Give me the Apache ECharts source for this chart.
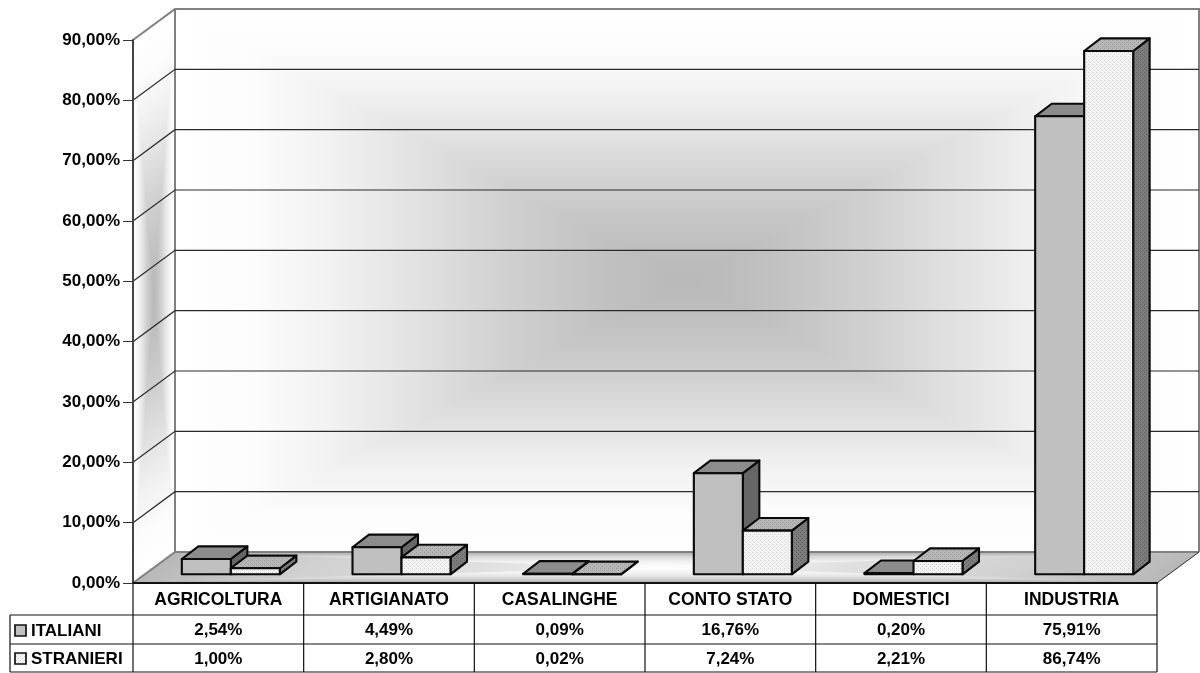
<!DOCTYPE html>
<html>
<head>
<meta charset="utf-8">
<style>html,body{margin:0;padding:0;background:#fff}#chart{width:1200px;height:673px}</style>
<script src="https://cdn.jsdelivr.net/npm/echarts@6/dist/echarts.min.js"></script>
</head>
<body>
<div id="chart"></div>
<script>
// Occupational sectors, share of workers by origin (percent)
const categories = ['AGRICOLTURA', 'ARTIGIANATO', 'CASALINGHE', 'CONTO STATO', 'DOMESTICI', 'INDUSTRIA'];
const italiani = [2.54, 4.49, 0.09, 16.76, 0.20, 75.91];
const stranieri = [1.00, 2.80, 0.02, 7.24, 2.21, 86.74];
const seriesNames = ['ITALIANI', 'STRANIERI'];
const tickValues = [0, 10, 20, 30, 40, 50, 60, 70, 80, 90];

const FAMILY = '"Liberation Sans", Arial, sans-serif';
const FONT = 'bold 17px ' + FAMILY;
const pct = v => v.toFixed(2).replace('.', ',') + '%';

// Depth of the 3D box: back wall offset from the front plane
const WALL_DX = 42, WALL_DY = -31;
// Bars stand part-way into the floor and have their own depth
const BAR_OFF_X = 12.5, BAR_OFF_Y = -8.7, BAR_DX = 16.5, BAR_DY = -12.6, BAR_RATIO = 0.2871;

// Dotted fill tiles for the second series
function dotted(base, dot) {
  const c = document.createElement('canvas');
  c.width = c.height = 4;
  const g = c.getContext('2d');
  g.fillStyle = base; g.fillRect(0, 0, 4, 4);
  g.fillStyle = dot;
  g.fillRect(0, 0, 1, 1); g.fillRect(2, 2, 1, 1);
  return { image: c, repeat: 'repeat' };
}
const plain = { front: '#c0c0c0', top: '#8c8c8c', side: '#666666' };
const dots = {
  front: dotted('#f2f2f2', '#cfcfcf'),
  top: dotted('#b6b6b6', '#989898'),
  side: dotted('#7c7c7c', '#5c5c5c')
};

function linear(p0, p1, stops) {
  return {
    type: 'linear', global: true, x: p0[0], y: p0[1], x2: p1[0], y2: p1[1],
    colorStops: stops.map(s => ({ offset: s[0], color: s[1] }))
  };
}
// Foot of the perpendicular from point c onto the line a-b
function foot(c, a, b) {
  const dx = b[0] - a[0], dy = b[1] - a[1];
  const k = ((c[0] - a[0]) * dx + (c[1] - a[1]) * dy) / (dx * dx + dy * dy);
  return [a[0] + k * dx, a[1] + k * dy];
}
// Rectangular path gradient: four mitred triangles meeting at the centre.
// Stops alternate between the odd and even edges of the quad.
function pathGradient(corners, stopsA, stopsB) {
  const c = [0, 0];
  corners.forEach(p => { c[0] += p[0] / 4; c[1] += p[1] / 4; });
  return corners.map((a, i) => {
    const b = corners[(i + 1) % 4];
    const fill = linear(foot(c, a, b), c, i % 2 ? (stopsB || stopsA) : stopsA);
    return { type: 'polygon', shape: { points: [a, b, c] }, style: { fill, stroke: fill, lineWidth: 1 }, silent: true };
  });
}
const wallStops = [[0, '#ffffff'], [0.15, '#fcfcfc'], [0.3, '#f2f2f2'], [0.45, '#e4e4e4'], [0.65, '#d0d0d0'], [0.85, '#c0c0c0'], [1, '#b8b8b8']];
const floorEndStops = [[0, '#b8b8b8'], [0.3, '#d0d0d0'], [0.65, '#e0e0e0'], [0.85, '#f0f0f0'], [1, '#ffffff']];
const floorLongStops = [[0, '#a8a8a8'], [0.3, '#d8d8d8'], [0.6, '#f0f0f0'], [1, '#ffffff']];

function renderBox(params, api) {
  const r = params.coordSys, x0 = r.x, x1 = r.x + r.width, yT = r.y, yB = r.y + r.height;
  const back = [[x0 + WALL_DX, yT + WALL_DY], [x1 + WALL_DX, yT + WALL_DY], [x1 + WALL_DX, yB + WALL_DY], [x0 + WALL_DX, yB + WALL_DY]];
  const left = [[x0, yT], back[0], back[3], [x0, yB]];
  const floor = [[x0, yB], back[3], back[2], [x1, yB]];
  const edge = { stroke: '#808080', lineWidth: 2, fill: 'none' };
  const line = (points, style) => ({ type: 'polyline', shape: { points }, style: Object.assign({ fill: 'none' }, style), silent: true });
  return {
    type: 'group',
    children: [].concat(
      pathGradient(back, wallStops),
      pathGradient(left, wallStops),
      pathGradient(floor, floorEndStops, floorLongStops),
      [
        line([[x0, yT], back[0], back[1], back[2]], edge),
        line([back[0], back[3]], edge),
        line([back[3], back[2]], edge),
        line([[x0, yB], back[3]], edge),
        line([back[2], [x1, yB]], { stroke: '#333', lineWidth: 1 })
      ]
    )
  };
}

function renderGrid(params, api) {
  const r = params.coordSys, y = api.coord([0, api.value(1)])[1];
  return {
    type: 'polyline', silent: true,
    shape: { points: [[r.x, y], [r.x + WALL_DX, y + WALL_DY], [r.x + r.width + WALL_DX, y + WALL_DY]] },
    style: { fill: 'none', stroke: '#2a2a2a', lineWidth: 1.2 }
  };
}

function renderBar(palette, side) {
  return function (params, api) {
    const c = api.coord([api.value(0), api.value(1)]);
    const base = api.coord([api.value(0), 0]);
    const w = api.size([1, 0])[0] * BAR_RATIO;
    const xl = c[0] + BAR_OFF_X + (side === 0 ? -w : 0), xr = xl + w;
    const yt = c[1] + BAR_OFF_Y, yb = base[1] + BAR_OFF_Y;
    const stroke = { stroke: '#0a0a0a', lineWidth: 2.1, lineJoin: 'round' };
    const poly = (points, fill) => ({ type: 'polygon', shape: { points }, style: Object.assign({ fill }, stroke), silent: true });
    return {
      type: 'group',
      children: [
        poly([[xr, yb], [xr + BAR_DX, yb + BAR_DY], [xr + BAR_DX, yt + BAR_DY], [xr, yt]], palette.side),
        poly([[xl, yt], [xl + BAR_DX, yt + BAR_DY], [xr + BAR_DX, yt + BAR_DY], [xr, yt]], palette.top),
        poly([[xl, yb], [xl, yt], [xr, yt], [xr, yb]], palette.front)
      ]
    };
  };
}

// Data table under the plot, one column per category
const ROW_TOP = 615, ROW_MID = 644, ROW_END = 672, TABLE_LEFT = 10;
function cell(text, x, y, align) {
  return { type: 'text', silent: true, style: { text, x, y, align: align || 'center', verticalAlign: 'middle', font: FONT, fill: '#000' } };
}
function rule(x1, y1, x2, y2) {
  return { type: 'line', silent: true, shape: { x1, y1, x2, y2 }, style: { stroke: '#111', lineWidth: 1.2 } };
}
function renderTableColumn(params, api) {
  const i = api.value(0), cx = api.coord([i, 0])[0], hw = api.size([1, 0])[0] / 2, yB = api.coord([i, 0])[1];
  return {
    type: 'group',
    children: [
      rule(cx + hw, yB, cx + hw, ROW_END),
      cell(pct(italiani[i]), cx, 630),
      cell(pct(stranieri[i]), cx, 659)
    ]
  };
}
function renderTableFrame(params) {
  const r = params.coordSys, x0 = r.x, x1 = r.x + r.width, yB = r.y + r.height;
  const key = (y, fill) => ({ type: 'rect', silent: true, shape: { x: 15, y, width: 11, height: 11 }, style: { fill, stroke: '#111', lineWidth: 1.7 } });
  return {
    type: 'group',
    children: [
      rule(x0, yB, x0, ROW_END),
      rule(TABLE_LEFT, ROW_TOP, TABLE_LEFT, ROW_END),
      rule(TABLE_LEFT, ROW_TOP, x1, ROW_TOP),
      rule(TABLE_LEFT, ROW_MID, x1, ROW_MID),
      rule(TABLE_LEFT, ROW_END, x1, ROW_END),
      key(625, plain.front),
      key(653, dots.front),
      cell(seriesNames[0], 31, 631, 'left'),
      cell(seriesNames[1], 31, 659, 'left')
    ]
  };
}

const chart = echarts.init(document.getElementById('chart'), null, { renderer: 'canvas' });
const custom = (renderItem, data, z) => ({ type: 'custom', renderItem, data, z, animation: false, silent: true, clip: false });
chart.setOption({
  animation: false,
  backgroundColor: '#ffffff',
  grid: { left: 133, right: 43, top: 40, height: 543, containLabel: false },
  xAxis: {
    type: 'category', data: categories, z: 6,
    axisLine: { lineStyle: { color: '#111', width: 2 } },
    axisTick: { show: false },
    axisLabel: { interval: 0, margin: 8, color: '#000', fontWeight: 'bold', fontSize: 17.5, fontFamily: FAMILY }
  },
  yAxis: {
    type: 'value', min: 0, max: 90, interval: 10, z: 6,
    splitLine: { show: false },
    axisLine: { show: true, lineStyle: { color: '#444', width: 2 } },
    axisTick: { show: true, length: 10, lineStyle: { color: '#333', width: 1 } },
    axisLabel: { margin: 13, color: '#000', fontWeight: 'bold', fontSize: 17, fontFamily: FAMILY, formatter: v => pct(v) }
  },
  series: [
    custom(renderBox, [[0, 0]], 1),
    custom(renderGrid, tickValues.slice(1, -1).map(v => [0, v]), 2),
    custom(renderBar(plain, 0), italiani.map((v, i) => [i, v]), 3),
    custom(renderBar(dots, 1), stranieri.map((v, i) => [i, v]), 4),
    custom(renderTableFrame, [[0, 0]], 5),
    custom(renderTableColumn, categories.map((c, i) => [i, 0]), 5)
  ]
});
</script>
</body>
</html>
